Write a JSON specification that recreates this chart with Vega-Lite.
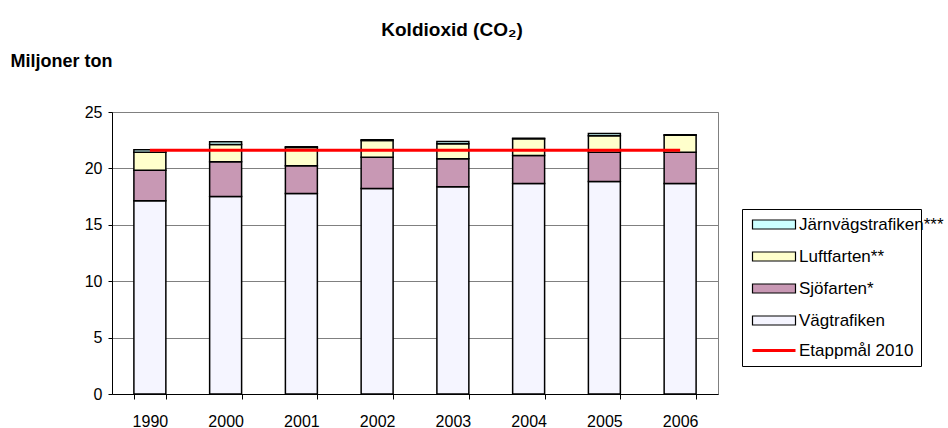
{
  "$schema": "https://vega.github.io/schema/vega-lite/v6.json",
  "width": 606,
  "height": 282,
  "autosize": "none",
  "padding": {"left": 112, "top": 112, "right": 230, "bottom": 34},
  "background": "white",
  "config": {
    "font": "Liberation Sans",
    "view": {"stroke": "#808080", "strokeWidth": 1}
  },
  "title": {
    "text": "Koldioxid (CO₂)",
    "font": "Liberation Sans",
    "fontSize": 19,
    "fontWeight": "bold",
    "color": "black",
    "anchor": "middle",
    "frame": "group",
    "dx": 37,
    "offset": 12
  },
  "datasets": {
    "bars": [
      {"year": "1990", "serie": "Vägtrafiken", "ord": 1, "value": 17.13},
      {"year": "1990", "serie": "Sjöfarten*", "ord": 2, "value": 2.71},
      {"year": "1990", "serie": "Luftfarten**", "ord": 3, "value": 1.6},
      {"year": "1990", "serie": "Järnvägstrafiken***", "ord": 4, "value": 0.21},
      {"year": "2000", "serie": "Vägtrafiken", "ord": 1, "value": 17.51},
      {"year": "2000", "serie": "Sjöfarten*", "ord": 2, "value": 3.07},
      {"year": "2000", "serie": "Luftfarten**", "ord": 3, "value": 1.54},
      {"year": "2000", "serie": "Järnvägstrafiken***", "ord": 4, "value": 0.24},
      {"year": "2001", "serie": "Vägtrafiken", "ord": 1, "value": 17.78},
      {"year": "2001", "serie": "Sjöfarten*", "ord": 2, "value": 2.45},
      {"year": "2001", "serie": "Luftfarten**", "ord": 3, "value": 1.63},
      {"year": "2001", "serie": "Järnvägstrafiken***", "ord": 4, "value": 0.05},
      {"year": "2002", "serie": "Vägtrafiken", "ord": 1, "value": 18.22},
      {"year": "2002", "serie": "Sjöfarten*", "ord": 2, "value": 2.77},
      {"year": "2002", "serie": "Luftfarten**", "ord": 3, "value": 1.49},
      {"year": "2002", "serie": "Järnvägstrafiken***", "ord": 4, "value": 0.05},
      {"year": "2003", "serie": "Vägtrafiken", "ord": 1, "value": 18.37},
      {"year": "2003", "serie": "Sjöfarten*", "ord": 2, "value": 2.48},
      {"year": "2003", "serie": "Luftfarten**", "ord": 3, "value": 1.33},
      {"year": "2003", "serie": "Järnvägstrafiken***", "ord": 4, "value": 0.2},
      {"year": "2004", "serie": "Vägtrafiken", "ord": 1, "value": 18.66},
      {"year": "2004", "serie": "Sjöfarten*", "ord": 2, "value": 2.48},
      {"year": "2004", "serie": "Luftfarten**", "ord": 3, "value": 1.48},
      {"year": "2004", "serie": "Järnvägstrafiken***", "ord": 4, "value": 0.05},
      {"year": "2005", "serie": "Vägtrafiken", "ord": 1, "value": 18.84},
      {"year": "2005", "serie": "Sjöfarten*", "ord": 2, "value": 2.6},
      {"year": "2005", "serie": "Luftfarten**", "ord": 3, "value": 1.45},
      {"year": "2005", "serie": "Järnvägstrafiken***", "ord": 4, "value": 0.2},
      {"year": "2006", "serie": "Vägtrafiken", "ord": 1, "value": 18.66},
      {"year": "2006", "serie": "Sjöfarten*", "ord": 2, "value": 2.78},
      {"year": "2006", "serie": "Luftfarten**", "ord": 3, "value": 1.49},
      {"year": "2006", "serie": "Järnvägstrafiken***", "ord": 4, "value": 0.05}
    ],
    "target": [
      {"year": "1990", "serie": "Etappmål 2010", "value": 21.6},
      {"year": "2006", "serie": "Etappmål 2010", "value": 21.6}
    ]
  },
  "encoding": {
    "x": {
      "field": "year",
      "type": "ordinal",
      "sort": null,
      "scale": {"domain": ["1990", "2000", "2001", "2002", "2003", "2004", "2005", "2006"], "paddingInner": 0.578, "paddingOuter": 0.289},
      "axis": {
        "title": null,
        "labelAngle": 0,
        "labelFontSize": 16,
        "labelColor": "black",
        "labelPadding": 14,
        "tickBand": "extent",
        "tickSize": 5,
        "tickColor": "black",
        "domainColor": "black",
        "domainWidth": 1,
        "grid": false
      }
    },
    "y": {
      "field": "value",
      "type": "quantitative",
      "stack": "zero",
      "scale": {"domain": [0, 25], "nice": false},
      "axis": {
        "values": [0, 5, 10, 15, 20, 25],
        "title": "Miljoner ton",
        "titleAngle": 0,
        "titleX": -102,
        "titleY": -46,
        "titleAlign": "left",
        "titleBaseline": "alphabetic",
        "titleFontSize": 18,
        "titleFontWeight": "bold",
        "titleColor": "black",
        "labelFontSize": 16,
        "labelColor": "black",
        "labelPadding": 6,
        "tickSize": 4,
        "tickColor": "black",
        "domainColor": "black",
        "grid": true,
        "gridColor": "#808080",
        "gridWidth": 1
      }
    }
  },
  "layer": [
    {
      "data": {"name": "bars"},
      "mark": {"type": "bar", "stroke": "black", "strokeWidth": 1.5},
      "encoding": {
        "color": {
          "field": "serie",
          "type": "nominal",
          "scale": {
            "domain": ["Järnvägstrafiken***", "Luftfarten**", "Sjöfarten*", "Vägtrafiken"],
            "range": ["#ccffff", "#ffffcc", "#c898b4", "#f5f5ff"]
          },
          "legend": {
            "title": null,
            "orient": "none",
            "legendX": 630,
            "legendY": 97,
            "direction": "vertical",
            "padding": 7,
            "labelFontSize": 17,
            "labelColor": "black",
            "labelFont": "Liberation Sans",
            "labelLimit": 400,
            "symbolSize": 100,
            "symbolType": "M-1,-0.9H7.6V0.9H-1Z",
            "symbolStrokeColor": "black",
            "symbolStrokeWidth": 1.2,
            "labelOffset": 33,
            "rowPadding": 14
          }
        },
        "order": {"field": "ord", "type": "quantitative"}
      }
    },
    {
      "data": {"name": "target"},
      "mark": {"type": "line", "strokeWidth": 3},
      "encoding": {
        "stroke": {
          "field": "serie",
          "type": "nominal",
          "scale": {"domain": ["Etappmål 2010"], "range": ["#ff0000"]},
          "legend": {
            "title": "                    ",
            "titleFontSize": 40,
            "titleLimit": 1000,
            "titleOpacity": 0,
            "titlePadding": 86,
            "orient": "none",
            "legendX": 630,
            "legendY": 97,
            "direction": "vertical",
            "strokeColor": "black",
            "padding": 7,
            "labelFontSize": 17,
            "labelColor": "black",
            "labelFont": "Liberation Sans",
            "labelLimit": 400,
            "symbolSize": 100,
            "symbolType": "M-1,0H7.6",
            "symbolStrokeWidth": 3,
            "labelOffset": 33
          }
        },
        "y": {"field": "value", "type": "quantitative", "stack": null}
      }
    }
  ]
}
